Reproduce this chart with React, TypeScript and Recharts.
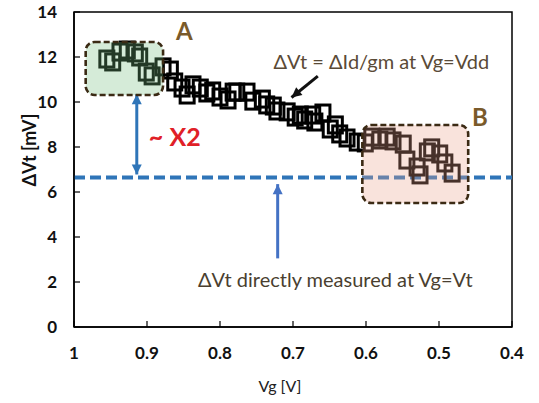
import { ScatterChart, Scatter, XAxis, YAxis, ReferenceArea, ReferenceLine, ReferenceDot } from 'recharts';

const vgValues = [
  0.955, 0.947, 0.937, 0.927, 0.916, 0.91, 0.901, 0.893, 0.878, 0.868, 0.862, 0.852, 0.845, 0.837, 0.827,
  0.818, 0.81, 0.8, 0.789, 0.782, 0.777, 0.763, 0.755, 0.742, 0.736, 0.727, 0.722, 0.708, 0.697, 0.69,
  0.684, 0.673, 0.67, 0.659, 0.649, 0.642, 0.636, 0.626, 0.612, 0.601, 0.592, 0.581, 0.571, 0.563, 0.549,
  0.544, 0.53, 0.526, 0.516, 0.51, 0.499, 0.492, 0.482,
];
const dvtValues = [
  11.91, 11.78, 12.22, 12.31, 12.18, 12.0, 11.33, 11.16, 11.56, 11.42, 10.89, 10.62, 10.31, 10.76, 10.62,
  10.4, 10.49, 10.22, 10.09, 10.44, 10.44, 10.44, 10.04, 10.13, 9.87, 9.82, 9.6, 9.56, 9.33, 9.42,
  9.2, 9.42, 9.11, 9.51, 8.8, 8.98, 8.58, 8.4, 8.22, 8.18, 8.44, 8.31, 8.44, 8.27, 8.13,
  7.42, 7.11, 6.76, 7.78, 7.96, 7.69, 7.29, 6.84,
];
const xTicks = [1, 0.9, 0.8, 0.7, 0.6, 0.5, 0.4];
const yTicks = [0, 2, 4, 6, 8, 10, 12, 14];
const directLevel = 6.65;

const points = vgValues.map((vg, i) => ({ vg, dvt: dvtValues[i] }));

const FONT = 'Lato, "Open Sans", sans-serif';
const BLUE = '#2f75b8';

const SquareMarker = (p: any) => (
  <rect x={p.cx - 7} y={p.cy - 8} width={14} height={16} fill="none" stroke="#000" strokeWidth={3} />
);

const YTick = (p: any) => (
  <g>
    <line x1={p.x} y1={p.y} x2={p.x + 6} y2={p.y} stroke="#000" strokeWidth={1.2} />
    <text x={p.x - 17} y={p.y} dy="0.35em" textAnchor="end" fontFamily={FONT} fontWeight={700} fontSize={17} fill="#111">
      {p.payload.value}
    </text>
  </g>
);

const XTick = (p: any) => (
  <g>
    <line x1={p.x} y1={p.y} x2={p.x} y2={p.y - 6} stroke="#000" strokeWidth={1.2} />
    <text x={p.x} y={p.y + 26} dy="0.35em" textAnchor="middle" fontFamily={FONT} fontWeight={700} fontSize={17} fill="#111">
      {p.payload.value}
    </text>
  </g>
);

// translucent box laid over the markers it highlights
const box = (fill: string) => (p: any) => (
  <rect x={p.x} y={p.y} width={p.width} height={p.height} rx={9} fill={fill} fillOpacity={0.3}
    stroke="#3b2a14" strokeWidth={2.6} strokeDasharray="6 3" />
);

const textAt = (txt: string, size: number, color: string, weight = 400) => (p: any) => (
  <text x={p.cx} y={p.cy} dy="0.35em" textAnchor="middle" fontFamily={FONT} fontSize={size}
    fontWeight={weight} fill={color}>
    {txt}
  </text>
);

const arrow = (color: string, width: number, heads: 'start' | 'end' | 'both') => (p: any) => {
  const { x1, y1, x2, y2 } = p;
  const ang = Math.atan2(y2 - y1, x2 - x1);
  const head = (x: number, y: number, a: number) => {
    const l = 10, w = 5;
    const bx = x - l * Math.cos(a), by = y - l * Math.sin(a);
    return `${x},${y} ${bx + w * Math.sin(a)},${by - w * Math.cos(a)} ${bx - w * Math.sin(a)},${by + w * Math.cos(a)}`;
  };
  return (
    <g>
      <line x1={x1} y1={y1} x2={x2} y2={y2} stroke={color} strokeWidth={width} />
      {heads !== 'start' && <polygon points={head(x2, y2, ang)} fill={color} />}
      {heads !== 'end' && <polygon points={head(x1, y1, ang + Math.PI)} fill={color} />}
    </g>
  );
};

export default function App() {
  return (
    <div style={{ position: 'absolute', left: 0, top: 0, background: '#fff' }}>
      <ScatterChart width={539} height={403} margin={{ top: 12, right: 27, bottom: 0, left: 0 }}>
        <XAxis dataKey="vg" type="number" domain={[0.4, 1]} reversed ticks={xTicks} height={76}
          tickSize={0} tickMargin={0} tickLine={false} tick={<XTick />} axisLine={{ stroke: '#000', strokeWidth: 1.5 }}
          label={{ value: 'Vg [V]', content: () => (
            <text x={280} y={386} dy="0.35em" textAnchor="middle" fontFamily={FONT} fontSize={16} fill="#222">Vg [V]</text>
          ) }} />
        <YAxis dataKey="dvt" type="number" domain={[0, 14]} ticks={yTicks} width={74}
          tickSize={0} tickMargin={0} tickLine={false} tick={<YTick />} axisLine={{ stroke: '#000', strokeWidth: 1.5 }}
          label={{ value: 'ΔVt [mV]', content: () => (
            <text x={30} y={150} dy="0.35em" textAnchor="middle" transform="rotate(-90 30 150)"
              fontFamily={FONT} fontWeight={700} fontSize={18} fill="#111">ΔVt [mV]</text>
          ) }} />
        <ReferenceArea x1={1} x2={0.4} y1={0} y2={14} fill="none" stroke="#000" strokeWidth={1.5} />
        <ReferenceLine y={directLevel} stroke={BLUE} strokeWidth={4} strokeDasharray="11 5" />
        <Scatter data={points} shape={SquareMarker} isAnimationActive={false} />
        <ReferenceArea x1={0.984} x2={0.878} y1={10.31} y2={12.67} shape={box('#73bc7d')} zIndex={700} />
        <ReferenceArea x1={0.605} x2={0.46} y1={5.51} y2={8.98} shape={box('#eba28a')} zIndex={700} />
        <ReferenceDot x={0.849} y={13.15} r={1} shape={textAt('A', 24, '#7a5a2a', 700)} />
        <ReferenceDot x={0.444} y={9.3} r={1} shape={textAt('B', 24, '#7a5a2a', 700)} />
        <ReferenceLine segment={[{ x: 0.914, y: 10.35 }, { x: 0.914, y: 6.78 }]} shape={arrow(BLUE, 3, 'both')} />
        <ReferenceDot x={0.862} y={8.45} r={1} shape={textAt('~ X2', 25, '#e02027', 700)} />
        <ReferenceDot x={0.579} y={11.78} r={1} shape={textAt('ΔVt = ΔId/gm at Vg=Vdd', 20, '#5a4a36')} />
        <ReferenceLine segment={[{ x: 0.666, y: 11.15 }, { x: 0.702, y: 10.2 }]} shape={arrow('#111', 3, 'end')} />
        <ReferenceLine segment={[{ x: 0.721, y: 3.05 }, { x: 0.721, y: 6.35 }]} shape={arrow('#4472c4', 3, 'end')} />
        <ReferenceDot x={0.642} y={2.1} r={1} shape={textAt('ΔVt directly measured at Vg=Vt', 20, '#4a3f30')} />
      </ScatterChart>
    </div>
  );
}
